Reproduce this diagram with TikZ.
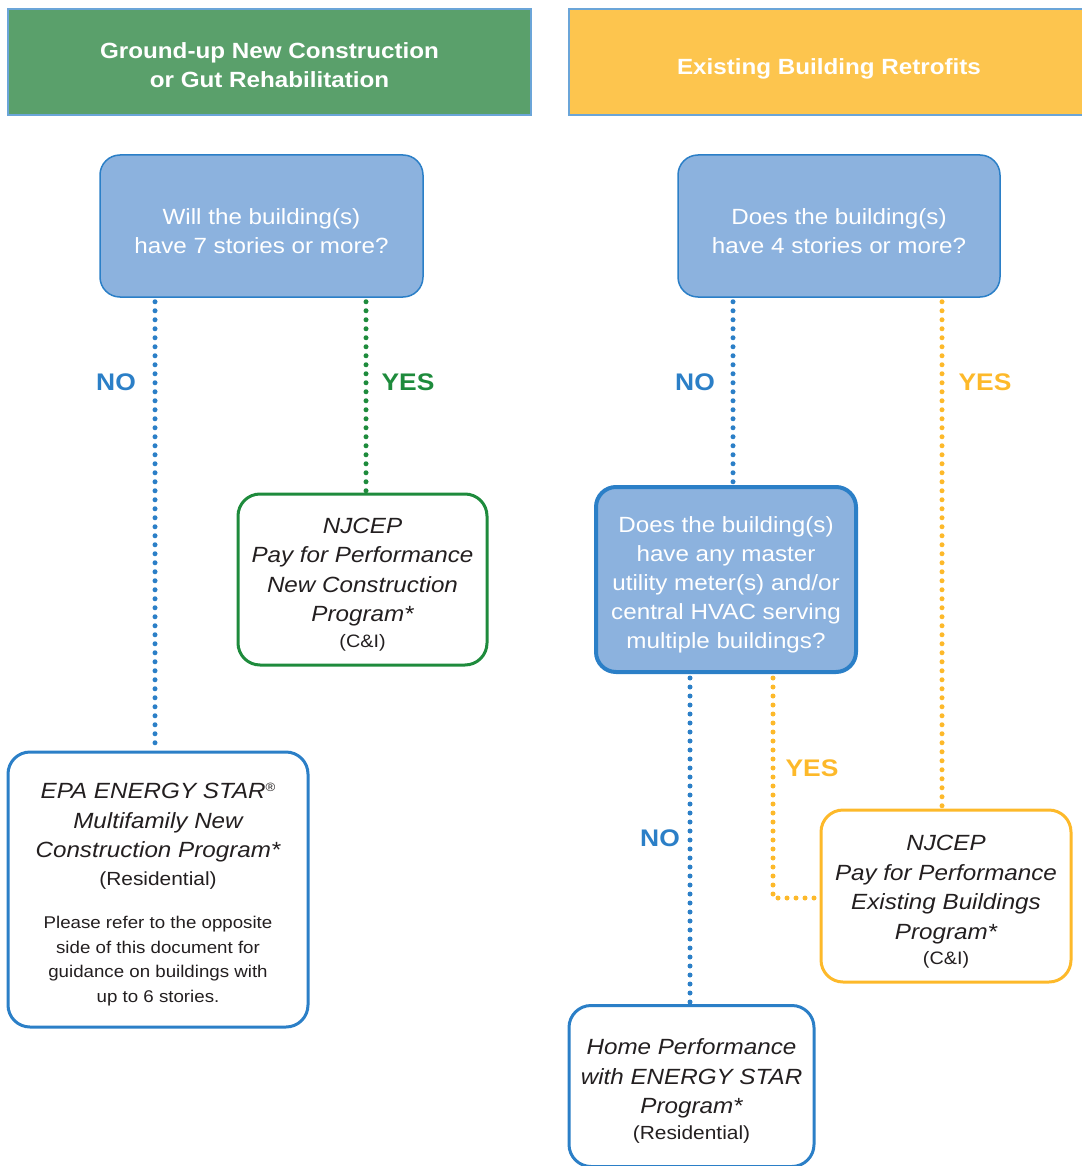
\documentclass[tikz,border=0pt]{standalone}
\usepackage{fontspec}
\setmainfont[FakeStretch=1.1]{Liberation Sans}
\usetikzlibrary{calc}
\definecolor{hdgreen}{HTML}{5AA06B}
\definecolor{hdyellow}{HTML}{FDC54E}
\definecolor{qfill}{HTML}{8CB2DE}
\definecolor{qblue}{HTML}{2B7FC7}
\definecolor{lgreen}{HTML}{1E8B3C}
\definecolor{lyellow}{HTML}{FDB92A}
\definecolor{txt}{HTML}{231F20}
\tikzset{
  header/.style={draw=qblue!70, line width=1.5pt, inner sep=0pt},
  headtext/.style={text=white, align=center, font=\fontsize{22}{29}\selectfont\bfseries, inner sep=0pt},
  question/.style={draw=qblue, line width=1.5pt, fill=qfill, rounded corners=20pt, inner sep=0pt},
  qtext/.style={text=white, align=center, font=\fontsize{22}{29}\selectfont, inner sep=0pt},
  result/.style={fill=white, line width=3pt, rounded corners=22pt, inner sep=0pt},
  rtext/.style={text=txt, align=center, font=\fontsize{22}{29.5}\selectfont\itshape, inner sep=0pt},
  dotline/.style={line width=5pt, line cap=round, dash pattern=on 0pt off 9pt},
  lbl/.style={font=\fontsize{24}{30}\selectfont\bfseries, inner sep=0pt},
}
\newcommand{\sm}[1]{{\upshape\fontsize{18}{22}\selectfont #1}}
\newcommand{\smr}[1]{{\upshape\fontsize{19}{22}\selectfont #1}}
\newcommand{\pr}[1]{{\upshape\fontsize{17}{24.5}\selectfont #1}}
\begin{document}
\begin{tikzpicture}[x=1pt,y=-1pt]
\useasboundingbox (0,0) rectangle (1081,1166);
% headers
\node[header, fill=hdgreen, minimum width=523pt, minimum height=106pt] (h1) at (269.5,62) {};
\node[headtext] (h1t) at ($(h1.center)+(0,3)$) {Ground-up New Construction\\or Gut Rehabilitation};
\node[header, fill=hdyellow, minimum width=520pt, minimum height=106pt] (h2) at (829,62) {};
\node[headtext] (h2t) at ($(h2.center)+(0,7)$) {Existing Building Retrofits};
% questions
\node[question, minimum width=323pt, minimum height=142pt] (q1) at (261.5,226) {};
\node[qtext] (q1t) at ($(q1.center)+(0,5)$) {Will the building(s)\\have 7 stories or more?};
\node[question, minimum width=322pt, minimum height=142pt] (q2) at (839,226) {};
\node[qtext] (q2t) at ($(q2.center)+(0,5)$) {Does the building(s)\\have 4 stories or more?};
\node[question, line width=4pt, minimum width=260pt, minimum height=185pt] (q3) at (726,579.5) {};
\node[qtext] (q3t) at ($(q3.center)+(0,5)$) {Does the building(s)\\have any master\\utility meter(s) and/or\\central HVAC serving\\multiple buildings?};
% results
\node[result, draw=lgreen, minimum width=249pt, minimum height=171pt] (rnc) at (362.5,579.5) {};
\node[rtext] (rnct) at ($(rnc.center)+(0,5)$) {NJCEP\\Pay for Performance\\New Construction\\Program*\\[-4pt]\sm{(C\&I)}};
\node[result, draw=qblue, minimum width=300pt, minimum height=275pt] (repa) at (158,889.5) {};
\node[rtext] (repat) at ($(repa.center)+(0,5)$)
  {EPA ENERGY STAR\raisebox{7pt}{\upshape\fontsize{12}{12}\selectfont ®}\\Multifamily New\\Construction Program*\\[-2pt]\smr{(Residential)}\\[14pt]
   \pr{Please refer to the opposite}\\[-5pt]\pr{side of this document for}\\[-5pt]\pr{guidance on buildings with}\\[-5pt]\pr{up to 6 stories.}};
\node[result, draw=lyellow, minimum width=250pt, minimum height=172pt] (reb) at (946,896) {};
\node[rtext] (rebt) at ($(reb.center)+(0,6)$) {NJCEP\\Pay for Performance\\Existing Buildings\\Program*\\[-4pt]\sm{(C\&I)}};
\node[result, draw=qblue, minimum width=245pt, minimum height=161pt] (rhp) at (691.5,1086) {};
\node[rtext] (rhpt) at ($(rhp.center)+(0,5)$) {Home Performance\\with ENERGY STAR\\Program*\\[-4pt]\smr{(Residential)}};
% connectors
\draw[dotline, qblue] ($(repa.north |- q1.south)+(-3,4)$) -- ($(repa.north)+(-3,0)$);
\draw[dotline, lgreen] ($(rnc.north |- q1.south)+(3.5,4)$) -- ($(rnc.north)+(3.5,0)$);
\draw[dotline, qblue] ($(q3.north |- q2.south)+(7,4)$) -- ($(q3.north)+(7,-3)$);
\draw[dotline, lyellow] ($(reb.north |- q2.south)+(-4,4)$) -- ($(reb.north)+(-4,0)$);
\draw[dotline, qblue] ($(rhp.north |- q3.south)+(-1.5,4)$) -- ($(rhp.north)+(-1.5,0)$);
\coordinate (q3y) at ($(q3.south)+(47,4)$);
\draw[dotline, lyellow] (q3y) |- ($(reb.west)+(0,2)$);
% labels
\node[lbl, text=qblue] (n1) at (116,382) {NO};
\node[lbl, text=lgreen] (y1) at (408,382) {YES};
\node[lbl, text=qblue] (n2) at (695,382) {NO};
\node[lbl, text=lyellow] (y2) at (985,382) {YES};
\node[lbl, text=lyellow] (y3) at (812,768) {YES};
\node[lbl, text=qblue] (n3) at (660,838) {NO};
\end{tikzpicture}
\end{document}
